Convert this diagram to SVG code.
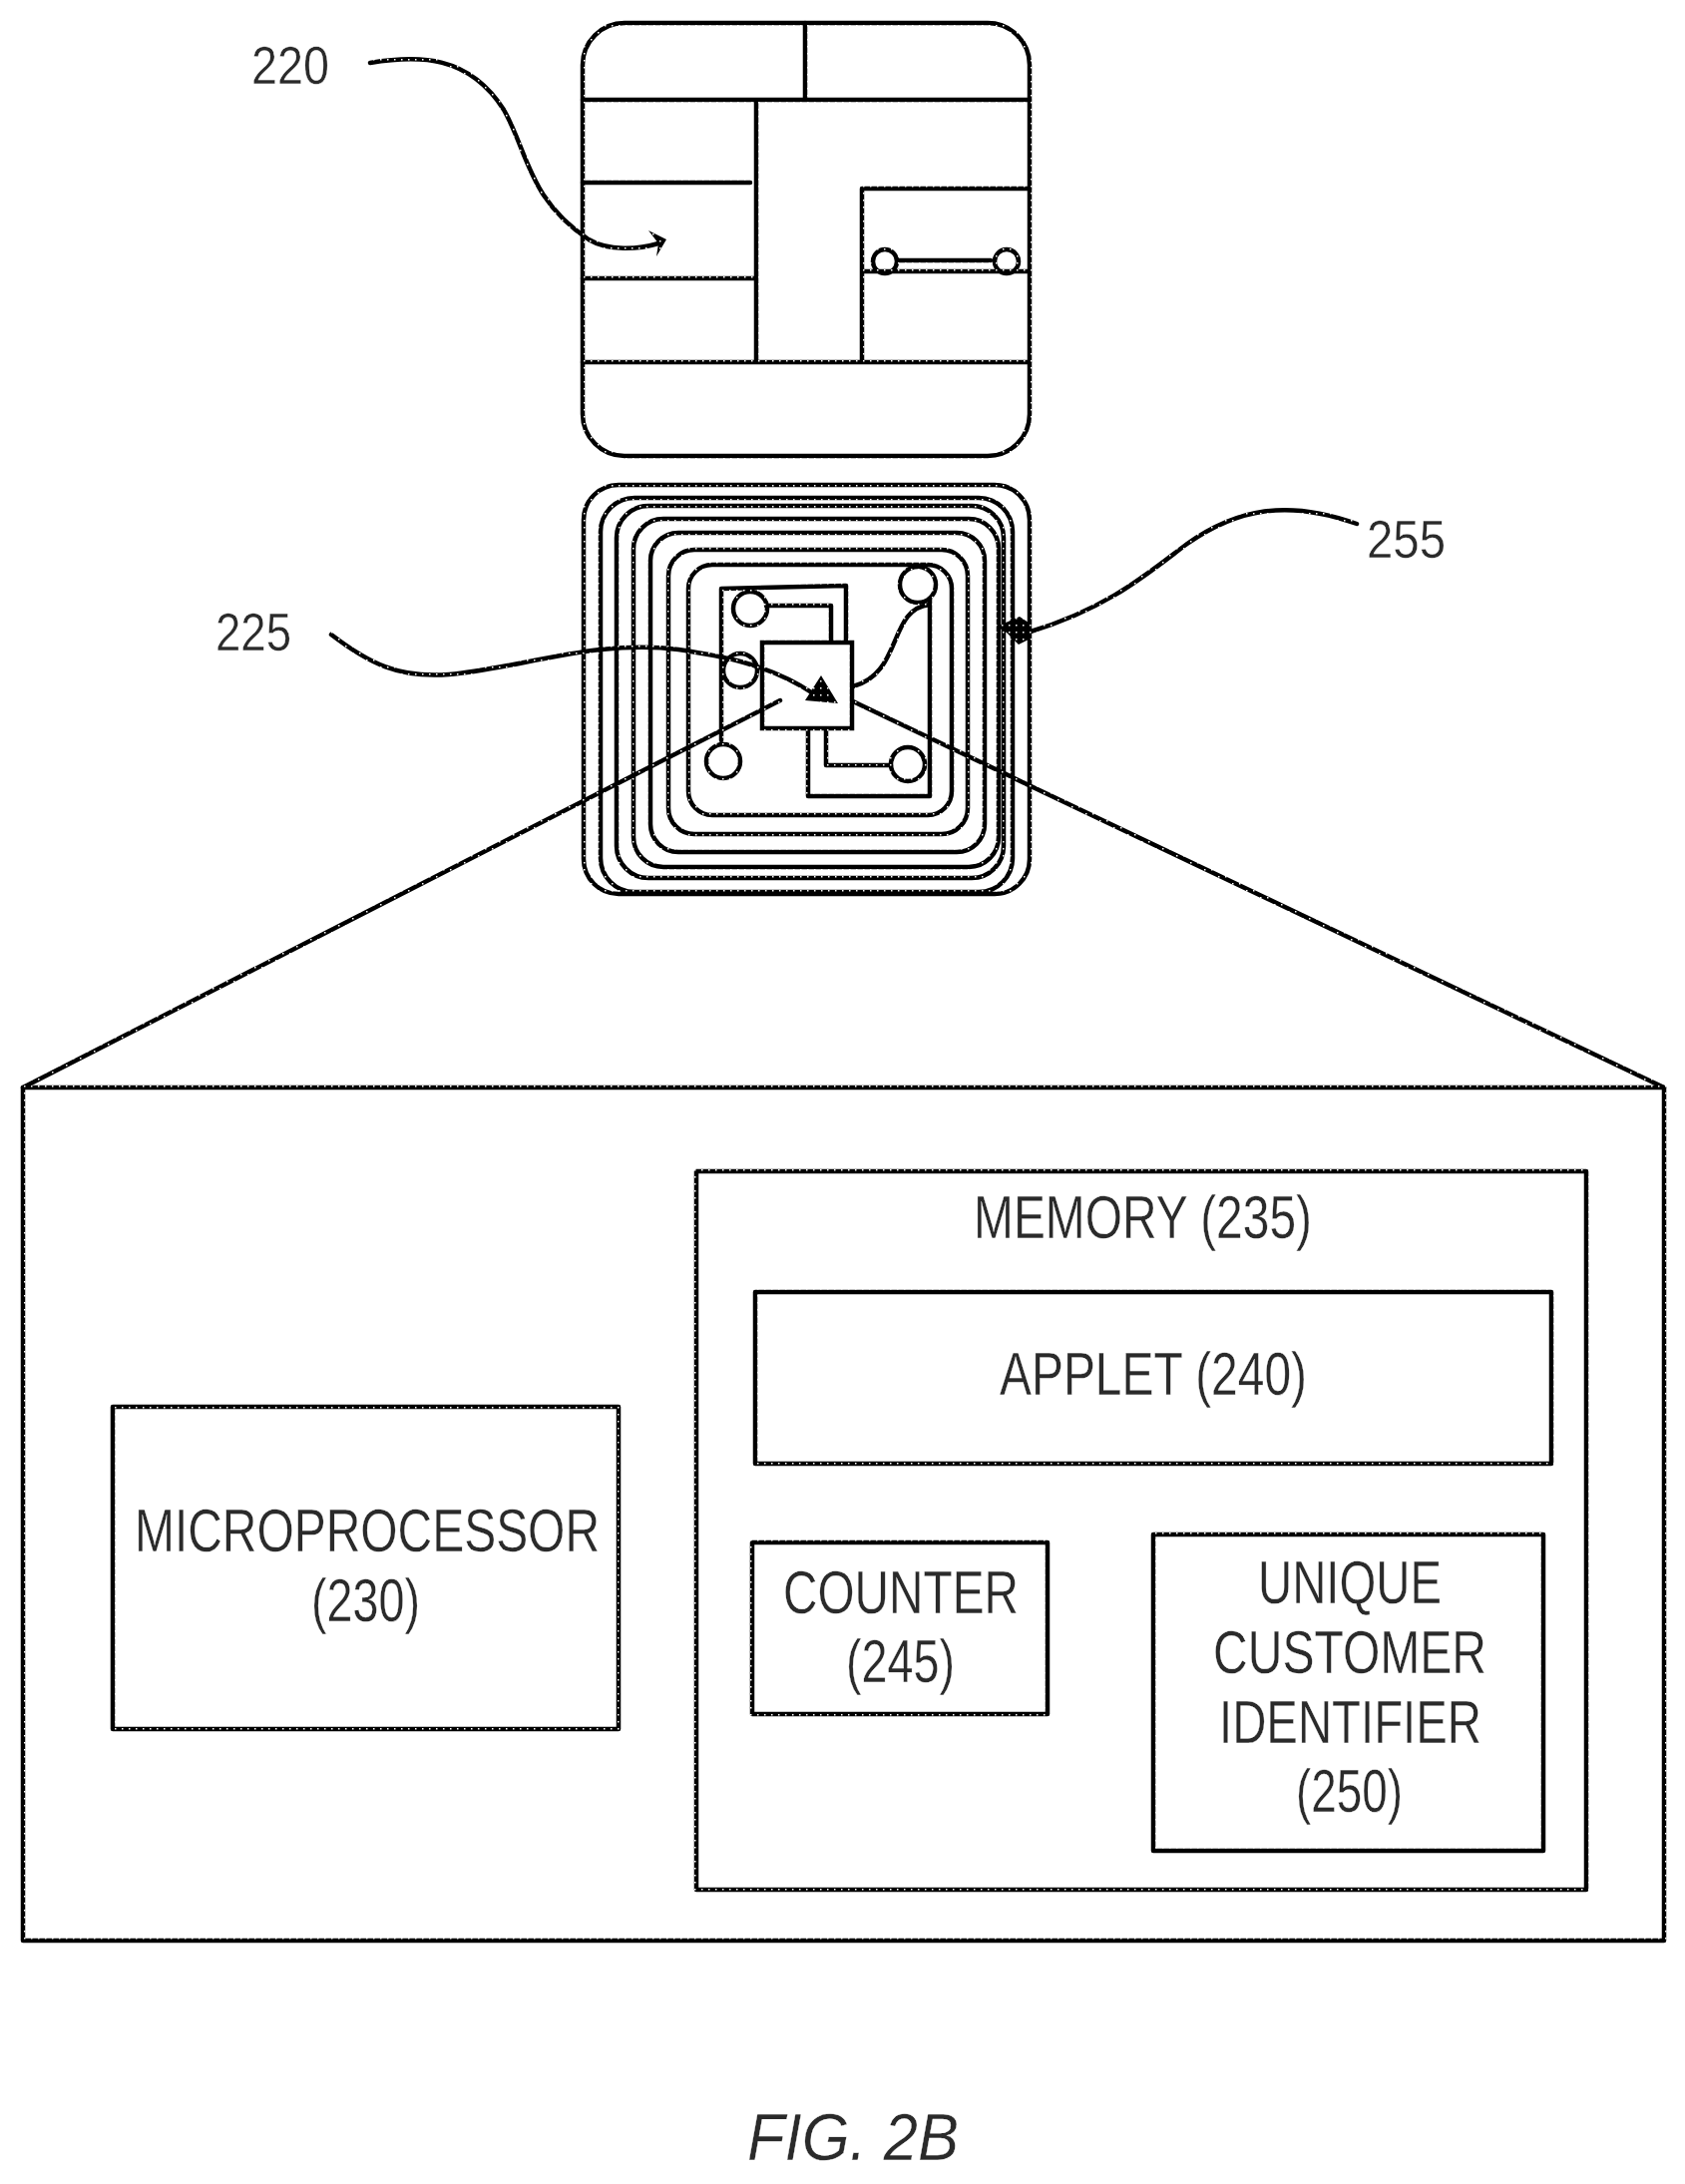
<svg xmlns="http://www.w3.org/2000/svg" width="1689" height="2189" viewBox="0 0 1689 2189">
<defs>
<pattern id="ht" patternUnits="userSpaceOnUse" width="7" height="7"><rect width="7" height="7" fill="#000"/><rect x="3" y="3" width="1.5" height="1.5" fill="#fff"/></pattern>
</defs>
<style>
.s{fill:none;stroke:url(#ht);stroke-width:4.5;stroke-linecap:round;stroke-linejoin:round}
.b{fill:#fff;stroke:url(#ht);stroke-width:4.5}
.h{fill:url(#ht);stroke:none}
text{font-family:"Liberation Sans",Arial,sans-serif;font-size:62px;fill:#2a2a2a;stroke:#fff;stroke-width:.4px}
.n{font-size:54px}
.f{font-size:66px;font-style:italic}
</style>
<rect width="1689" height="2189" fill="#fff"/>
<g id="chip-220" transform="translate(1,1)">
<rect class="s" x="583" y="22" width="448" height="434" rx="42"/>
<path class="s" d="M583 99H1031M806 22V99M583 362H1031M757 99V362M583 182H751M583 278H757M863 362V188H1031M863 271H1031M899 260H992"/>
<circle class="s" cx="886" cy="261" r="12"/><circle class="s" cx="1008" cy="261" r="12"/>
</g>
<g id="coil-255" transform="translate(1,0)">
<rect class="s" x="584" y="486" width="447" height="410" rx="35"/>
<rect class="s" x="601" y="499" width="413" height="395" rx="34"/>
<rect class="s" x="617" y="507" width="388" height="373" rx="32"/>
<rect class="s" x="634" y="520" width="366" height="349" rx="30"/>
<rect class="s" x="651" y="534" width="335" height="320" rx="28"/>
<rect class="s" x="669" y="551" width="300" height="285" rx="26"/>
<rect class="s" x="689" y="566" width="264" height="251" rx="24"/>
</g>
<g id="chip-225">
<path class="s" d="M848 643V587L723 590V742M768 607H833V643M828 729V767H893M810 729V798H932V600"/>
<path class="s" d="M855 688C905 675 890 610 932 606"/>
<circle class="s" cx="752" cy="610" r="17"/><circle class="s" cx="742" cy="672" r="17"/><circle class="s" cx="725" cy="763" r="17"/><circle class="s" cx="920" cy="586" r="18"/><circle class="s" cx="910" cy="766" r="17"/>
<rect class="b" x="764" y="644" width="90" height="86"/>
</g>
<g id="connectors">
<path class="s" d="M782 702L23 1090M855 703L1668 1090"/>
<path class="s" d="M371 63C420 55 470 55 505 110C530 155 530 200 590 240C610 252 640 250 660 244"/>
<polygon class="h" points="650,231 668,240 658,257 660,244"/>
<path class="s" d="M332 636C370 665 400 680 450 676C520 670 600 640 680 651C720 657 770 665 815 695"/>
<polygon class="h" points="823,677 840,705 807,702"/>
<path class="s" d="M1360 525C1290 500 1240 510 1190 545C1150 575 1110 610 1033 633"/>
<polygon class="h" points="1022,618 1034,626 1033,640 1021,646 1009,634 999,628"/>
</g>
<g id="detail"><rect class="s" x="23" y="1090" width="1645" height="855"/></g>
<g id="microprocessor"><rect class="s" x="113" y="1410" width="507" height="323"/>
<text x="135" y="1555" textLength="466" lengthAdjust="spacingAndGlyphs">MICROPROCESSOR</text>
<text x="312" y="1625" textLength="109" lengthAdjust="spacingAndGlyphs">(230)</text></g>
<g id="memory"><rect class="s" x="698" y="1174" width="892" height="720"/>
<text x="976" y="1241" textLength="339" lengthAdjust="spacingAndGlyphs">MEMORY (235)</text></g>
<g id="applet"><rect class="s" x="757" y="1295" width="798" height="172"/>
<text x="1002" y="1398" textLength="308" lengthAdjust="spacingAndGlyphs">APPLET (240)</text></g>
<g id="counter"><rect class="s" x="754" y="1546" width="296" height="172"/>
<text x="785" y="1617" textLength="236" lengthAdjust="spacingAndGlyphs">COUNTER</text>
<text x="848" y="1686" textLength="109" lengthAdjust="spacingAndGlyphs">(245)</text></g>
<g id="identifier"><rect class="s" x="1156" y="1538" width="391" height="317"/>
<text x="1261" y="1607" textLength="184" lengthAdjust="spacingAndGlyphs">UNIQUE</text>
<text x="1216" y="1677" textLength="274" lengthAdjust="spacingAndGlyphs">CUSTOMER</text>
<text x="1222" y="1747" textLength="263" lengthAdjust="spacingAndGlyphs">IDENTIFIER</text>
<text x="1299" y="1816" textLength="107" lengthAdjust="spacingAndGlyphs">(250)</text></g>
<g id="labels">
<text class="n" x="252" y="84" textLength="78" lengthAdjust="spacingAndGlyphs">220</text>
<text class="n" x="216" y="652" textLength="76" lengthAdjust="spacingAndGlyphs">225</text>
<text class="n" x="1370" y="559" textLength="79" lengthAdjust="spacingAndGlyphs">255</text>
<text class="f" x="749" y="2165" textLength="212" lengthAdjust="spacingAndGlyphs">FIG. 2B</text>
</g>
</svg>
